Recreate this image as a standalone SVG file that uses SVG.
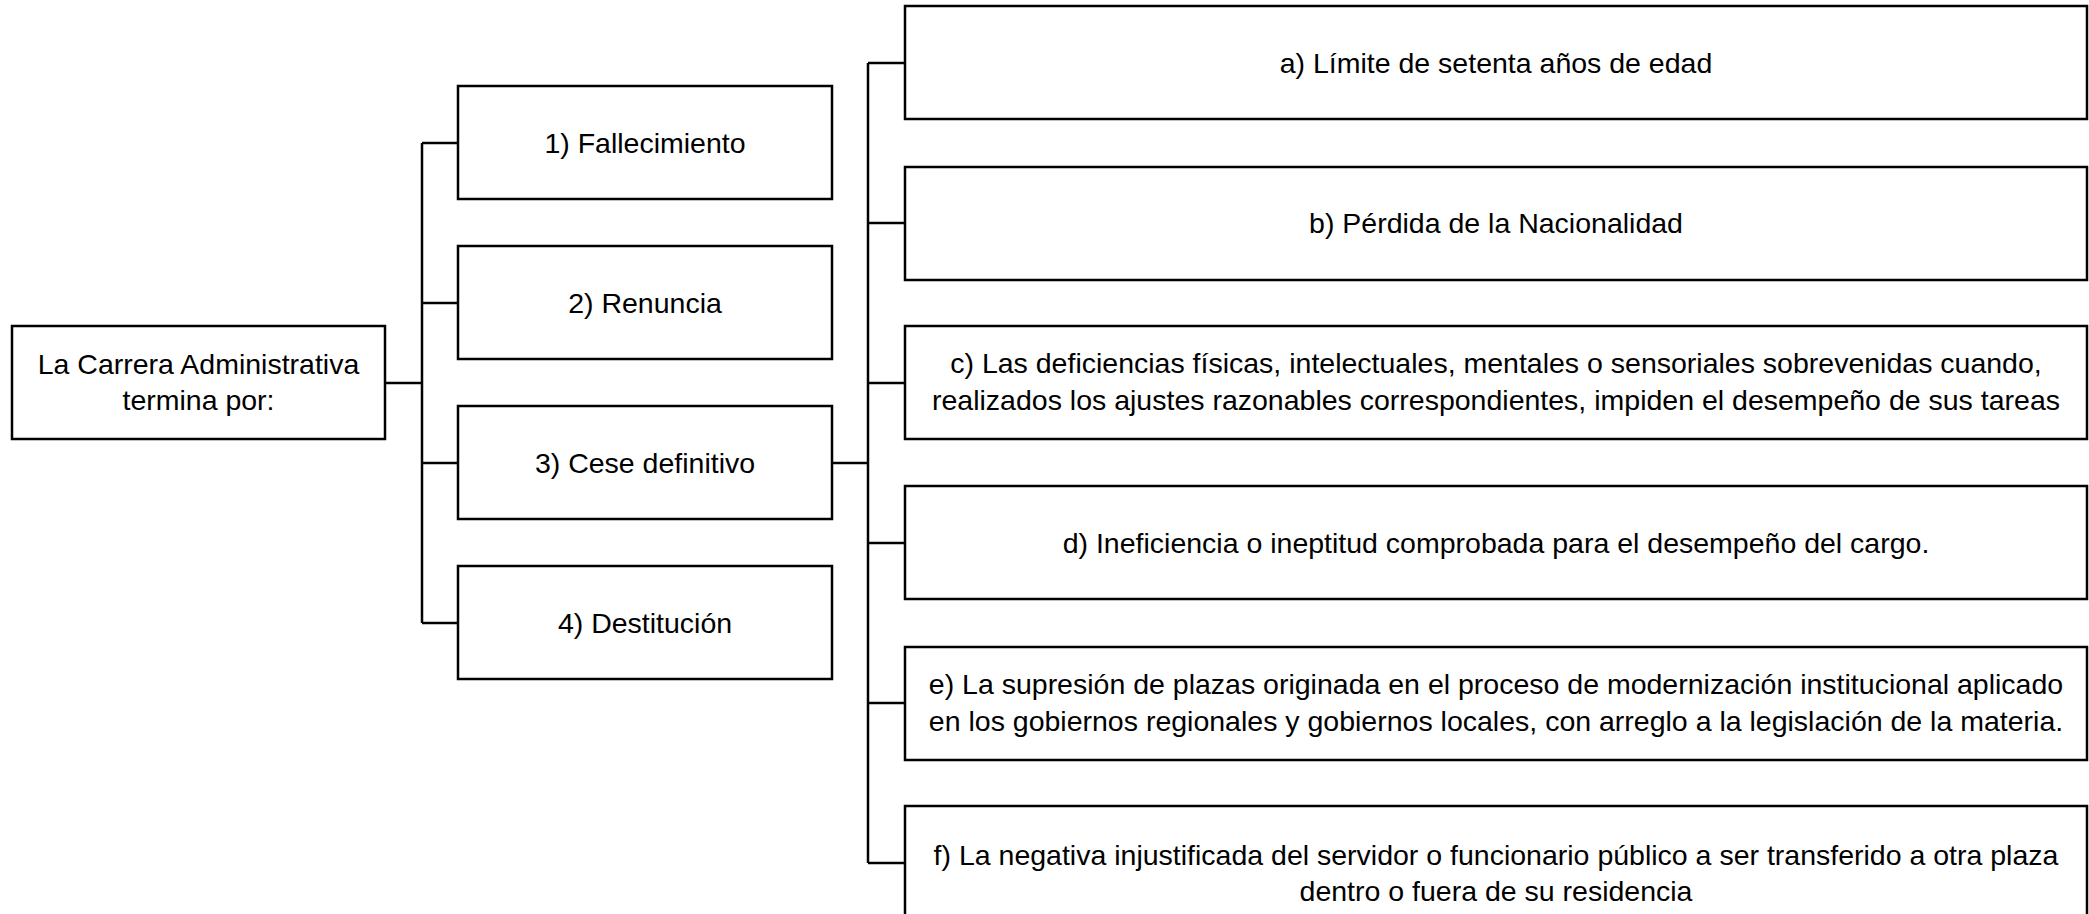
<svg xmlns="http://www.w3.org/2000/svg" width="2089" height="914" viewBox="0 0 2089 914">
<style>
.box{fill:#fff;stroke:#000;stroke-width:2.5}
.ln{fill:none;stroke:#000;stroke-width:2.5}
text{font-family:"Liberation Sans",Arial,sans-serif;font-size:28.5px;fill:#000;text-anchor:middle}
</style>
<rect width="2089" height="914" fill="#fff"/>
<g id="connectors">
<path class="ln" d="M385 383H422M422 143V623M422 143H458M422 303H458M422 463H458M422 623H458"/>
<path class="ln" d="M832 463H868M868 63V863M868 63H905M868 223H905M868 383H905M868 543H905M868 703H905M868 863H905"/>
</g>
<g id="root"><rect class="box" x="12" y="326" width="373" height="113"/><text x="198.5" y="374">La Carrera Administrativa</text><text x="198.5" y="410">termina por:</text></g>
<g id="n1"><rect class="box" x="458" y="86" width="374" height="113"/><text x="645" y="153">1) Fallecimiento</text></g>
<g id="n2"><rect class="box" x="458" y="246" width="374" height="113"/><text x="645" y="313">2) Renuncia</text></g>
<g id="n3"><rect class="box" x="458" y="406" width="374" height="113"/><text x="645" y="473">3) Cese definitivo</text></g>
<g id="n4"><rect class="box" x="458" y="566" width="374" height="113"/><text x="645" y="633">4) Destitución</text></g>
<g id="a"><rect class="box" x="905" y="6" width="1182" height="113"/><text x="1496" y="73">a) Límite de setenta años de edad</text></g>
<g id="b"><rect class="box" x="905" y="167" width="1182" height="113"/><text x="1496" y="233">b) Pérdida de la Nacionalidad</text></g>
<g id="c"><rect class="box" x="905" y="326" width="1182" height="113"/><text x="1496" y="373">c) Las deficiencias físicas, intelectuales, mentales o sensoriales sobrevenidas cuando,</text><text x="1496" y="410">realizados los ajustes razonables correspondientes, impiden el desempeño de sus tareas</text></g>
<g id="d"><rect class="box" x="905" y="486" width="1182" height="113"/><text x="1496" y="553">d) Ineficiencia o ineptitud comprobada para el desempeño del cargo.</text></g>
<g id="e"><rect class="box" x="905" y="647" width="1182" height="113"/><text x="1496" y="694">e) La supresión de plazas originada en el proceso de modernización institucional aplicado</text><text x="1496" y="731">en los gobiernos regionales y gobiernos locales, con arreglo a la legislación de la materia.</text></g>
<g id="f"><rect class="box" x="905" y="806" width="1182" height="130"/><text x="1496" y="865">f) La negativa injustificada del servidor o funcionario público a ser transferido a otra plaza</text><text x="1496" y="901">dentro o fuera de su residencia</text></g>
</svg>
